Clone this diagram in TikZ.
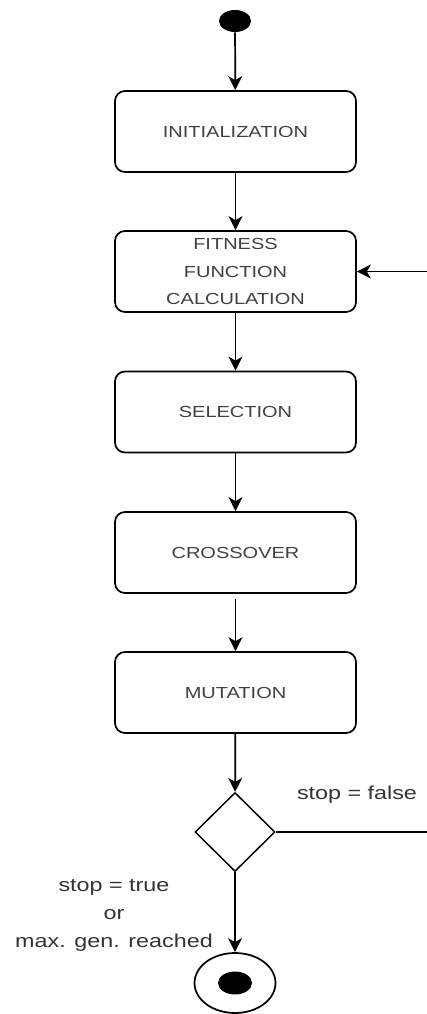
\documentclass[tikz,border=0pt]{standalone}
\usepackage{fontspec}
\setmainfont{Liberation Sans}[FakeStretch=1.25]
\usetikzlibrary{arrows.meta,shapes.geometric}

\tikzset{
    state/.style={draw, line width=1.3pt, rounded corners=7.5pt,
        minimum width=180.75pt, minimum height=60.75pt, inner sep=0pt,
        font=\fontsize{12}{20.6}\selectfont, text=black!75, align=center},
    startdot/.style={ellipse, fill=black, minimum width=24pt, minimum height=16.5pt, inner sep=0pt},
    enddot/.style={ellipse, draw, line width=1.3pt, fill=white, minimum width=60.75pt, minimum height=45pt, inner sep=0pt},
    decision/.style={diamond, draw, line width=1.1pt, minimum width=60pt, minimum height=59.25pt, inner sep=0pt},
    flow/.style={line width=1.3pt, -{Stealth[length=10.5pt,width=10.5pt,inset=3pt]}},
    guard/.style={font=\fontsize{14}{21}\selectfont, text=black!80, align=center},
}

\begin{document}
\begin{tikzpicture}[x=0.75pt,y=-0.75pt]
    \useasboundingbox (0,0) rectangle (427,1014);
    \clip (0,0) rectangle (427,1014);

    % 起点
    \node[startdot] (start) at (235,21) {};

    % 步骤
    \node[state] (init) at (235.5,131.5) {INITIALIZATION};
    \node[state] (fit)  at (235.5,271.5) {FITNESS\\FUNCTION\\CALCULATION};
    \node[state] (sel)  at (235.5,412) {SELECTION};
    \node[state] (cross) at (235.5,552.5) {CROSSOVER};
    \node[state] (mut)  at (235.5,692.5) {MUTATION};

    % 判断与终点
    \node[decision] (dec) at (235,832) {};
    \node[enddot] (stop) at (235,983) {};
    \fill (stop.center) ellipse (12.75pt and 8.6pt);

    % 连线
    \draw[flow] (start) -- (init);
    \draw[flow] (init) -- (fit);
    \draw[flow] (fit) -- (sel);
    \draw[flow] (sel) -- (cross);
    \draw[flow, shorten <=4pt] (cross) -- (mut);
    \draw[flow] (mut) -- (dec);
    \draw[flow] (dec) -- (stop);
    % 回路
    \coordinate (loop) at (432,832);
    \draw[flow] (dec.east) -- (loop) |- (fit.east);

    % 条件
    \node[guard] (lfalse) at (357,795) {stop = false};
    \node[guard] (ltrue) at (114,915) {stop = true\\or\\max. gen. reached};
\end{tikzpicture}
\end{document}
